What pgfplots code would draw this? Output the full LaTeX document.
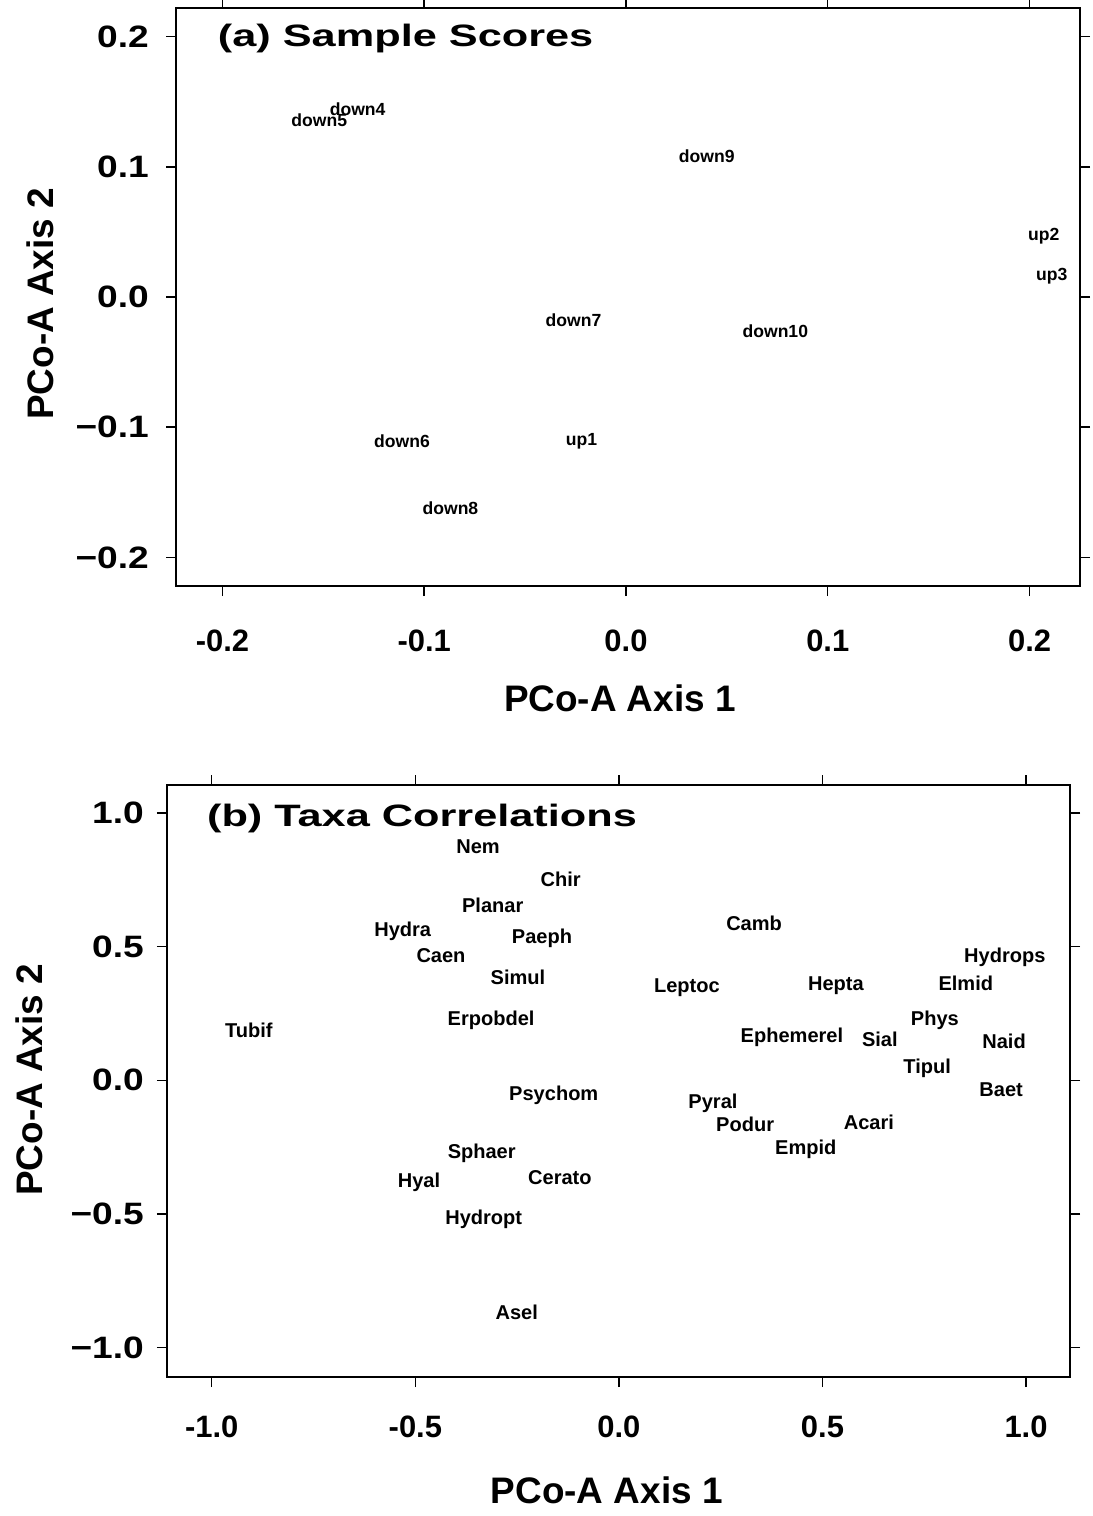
\documentclass[border=0pt]{standalone}
\usepackage{fontspec}
\setmainfont{Liberation Sans}
\newfontfamily\widefont[FakeStretch=1.4]{Liberation Sans}
\newfontfamily\ywide[FakeStretch=1.2]{Liberation Sans}
\usepackage{pgfplots}
\pgfplotsset{compat=1.18}

\pgfplotstableread{
x y lab
-0.133 0.144 down4
-0.152 0.136 down5
0.040 0.108 down9
0.207 0.047 up2
0.211 0.016 up3
-0.026 -0.018 down7
0.074 -0.026 down10
-0.111 -0.111 down6
-0.022 -0.111 up1
-0.087 -0.162 down8
}\samples

\pgfplotstableread{
x y lab
-0.346 0.873 Nem
-0.143 0.753 Chir
-0.310 0.655 Planar
-0.531 0.558 Hydra
-0.189 0.532 Paeph
-0.437 0.468 Caen
-0.248 0.386 Simul
-0.314 0.225 Erpobdel
-0.909 0.187 Tubif
0.332 0.588 Camb
0.948 0.461 Hydrops
0.167 0.345 Leptoc
0.533 0.356 Hepta
0.852 0.363 Elmid
0.776 0.225 Phys
0.425 0.161 Ephemerel
0.641 0.154 Sial
0.946 0.146 Naid
0.757 0.045 Tipul
0.939 -0.034 Baet
0.231 -0.086 Pyral
0.310 -0.165 Podur
0.614 -0.157 Acari
0.459 -0.258 Empid
-0.160 -0.056 Psychom
-0.337 -0.273 Sphaer
-0.145 -0.363 Cerato
-0.491 -0.382 Hyal
-0.332 -0.521 Hydropt
-0.251 -0.869 Asel
}\taxa

\pgfplotsset{
  myax/.style={
    scale only axis,
    axis line style={line width=0.9pt},
    tick style={line width=0.8pt, black},
    tick align=outside,
    major tick length=0.2cm,
    xticklabel style={font=\fontsize{17.6}{20}\selectfont\bfseries, anchor=north},
    yticklabel style={font=\ywide\fontsize{17.6}{20}\selectfont\bfseries, anchor=east},
    xlabel style={font=\fontsize{21}{24}\selectfont\bfseries},
    ylabel style={font=\fontsize{21}{24}\selectfont\bfseries},
  },
  lbl/.style={only marks, mark=*, mark size=0pt, mark options={draw=none, fill=none},
    nodes near coords, point meta=explicit symbolic, nodes near coords align=center,
    every node near coord/.append style={anchor=center, inner sep=0pt, text=black, font=\fontsize{#1}{#1}\selectfont\bfseries}}
}

\begin{document}
\begin{tikzpicture}
\path[use as bounding box] (0,0) rectangle (21.86cm,-30.32cm);

\begin{axis}[myax,
  at={(3.52cm,-0.16cm)}, anchor=north west,
  width=18.08cm, height=11.56cm,
  xmin=-0.223, xmax=0.225, ymin=-0.222, ymax=0.222,
  xtick={-0.2,-0.1,0,0.1,0.2}, xticklabels={-0.2,-0.1,0.0,0.1,0.2},
  ytick={-0.2,-0.1,0,0.1,0.2}, yticklabels={−0.2,−0.1,0.0,0.1,0.2},
  xticklabel style={yshift=-0.55cm},
  yticklabel style={xshift=-0.22cm},
  xlabel={PCo-A Axis 1}, ylabel={PCo-A Axis 2},
  xlabel style={at={(axis description cs:0.491,-0.194)}, anchor=center},
  ylabel style={at={(axis description cs:-0.150,0.488)}, anchor=center, rotate=0},
]
\node[anchor=west, font=\widefont\fontsize{17.6}{20}\selectfont\bfseries, inner sep=0pt] at (axis description cs:0.046,0.948) {(a) Sample Scores};
\addplot[lbl=10] table[meta=lab] {\samples};
\end{axis}

\begin{axis}[myax,
  at={(3.34cm,-15.70cm)}, anchor=north west,
  width=18.06cm, height=11.84cm,
  xmin=-1.11, xmax=1.108, ymin=-1.11, ymax=1.105,
  xtick={-1,-0.5,0,0.5,1}, xticklabels={-1.0,-0.5,0.0,0.5,1.0},
  ytick={-1,-0.5,0,0.5,1}, yticklabels={−1.0,−0.5,0.0,0.5,1.0},
  xticklabel style={yshift=-0.45cm},
  yticklabel style={xshift=-0.14cm},
  xlabel={PCo-A Axis 1}, ylabel={PCo-A Axis 2},
  xlabel style={at={(axis description cs:0.487,-0.191)}, anchor=center},
  ylabel style={at={(axis description cs:-0.152,0.502)}, anchor=center, rotate=0},
]
\node[anchor=west, font=\widefont\fontsize{17.6}{20}\selectfont\bfseries, inner sep=0pt] at (axis description cs:0.044,0.944) {(b) Taxa Correlations};
\addplot[lbl=11.4] table[meta=lab] {\taxa};
\end{axis}
\end{tikzpicture}
\end{document}
